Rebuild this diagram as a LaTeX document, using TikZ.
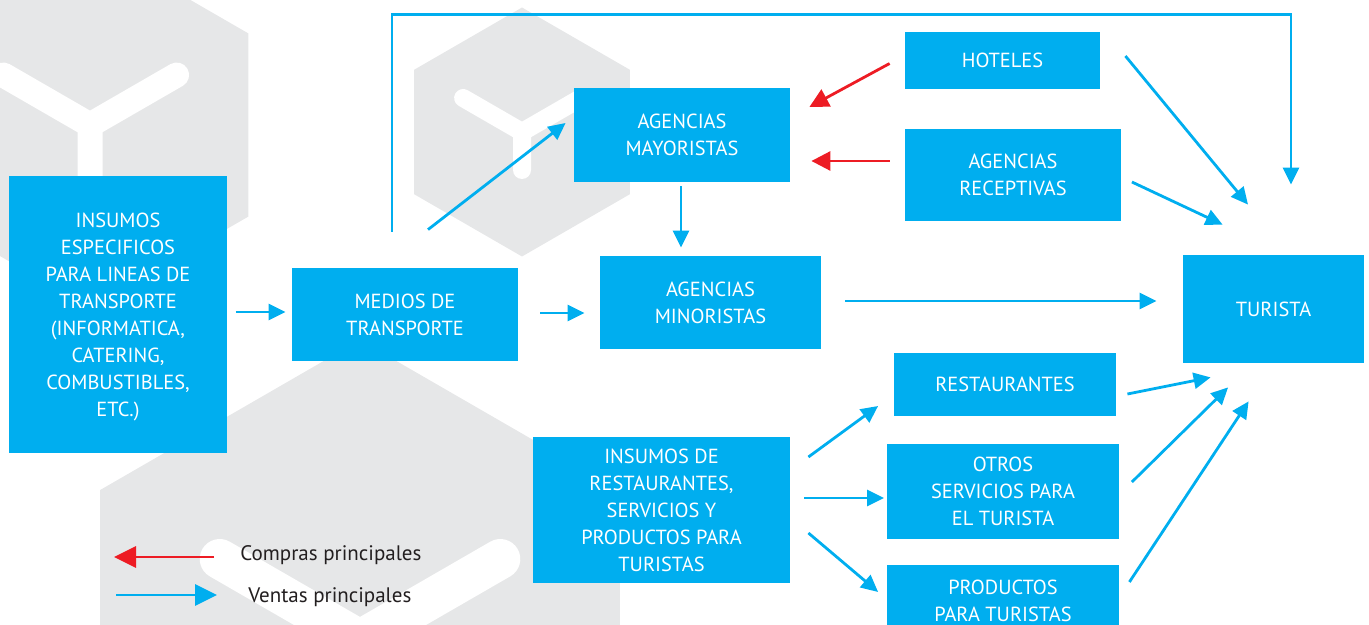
\documentclass[tikz,border=0pt]{standalone}
\usepackage{fontspec}
\setmainfont{PT Sans}
\usetikzlibrary{arrows.meta}
\definecolor{azul}{HTML}{00AEEF}
\definecolor{rojo}{HTML}{ED1C24}
\definecolor{gris}{HTML}{E6E7E8}
\definecolor{texto}{HTML}{231F20}

\begin{document}
\begin{tikzpicture}[x=0.5pt,y=-0.5pt,
    caja/.style={fill=azul,text=white,inner sep=0pt,align=center,font=\fontsize{10.2}{13.5}\selectfont},
    venta/.style={draw=azul,line width=1.4pt,-{Triangle[length=8.5pt,width=8pt]}},
    compra/.style={draw=rojo,line width=1.4pt,-{Triangle[length=9.5pt,width=9.5pt]}},
    leyenda/.style={anchor=base west,inner sep=0pt,text=texto,font=\fontsize{10.5}{12}\selectfont},
    hexa/.style={fill=gris},
    brazo/.style={draw=white,line cap=round,line join=round}]
  \useasboundingbox (0,0) rectangle (1369,625);
  \clip (0,0) rectangle (1369,625);
  % fondo
  \foreach \cx/\cy/\rad/\brz/\tal/\gro in {90/125/183/100/100/12.5, 522/132/124.5/68/38/9, 360/640/300/162/162/20}{
    \fill[hexa] (\cx,\cy) +(90:\rad) -- +(30:\rad) -- +(-30:\rad) -- +(-90:\rad) -- +(-150:\rad) -- +(150:\rad) -- cycle;
    \draw[brazo,line width=\gro pt] (\cx,\cy) +(-150:\brz) -- (\cx,\cy) -- +(-30:\brz) (\cx,\cy) -- +(90:\tal);
  }

  \node[caja,minimum width=109pt,minimum height=138.5pt,text depth=-2pt] (ins) at (118,314.5) {INSUMOS\\ESPECIFICOS\\PARA LINEAS DE\\TRANSPORTE\\(INFORMATICA,\\CATERING,\\COMBUSTIBLES,\\ETC.)};
  \node[caja,minimum width=113pt,minimum height=46.5pt] (med) at (405,314.5) {MEDIOS DE\\TRANSPORTE};
  \node[caja,minimum width=108pt,minimum height=47pt] (may) at (682,135) {AGENCIAS\\MAYORISTAS};
  \node[caja,minimum width=110.5pt,minimum height=46.5pt] (min) at (710.5,302.5) {AGENCIAS\\MINORISTAS};
  \node[caja,minimum width=97.5pt,minimum height=28.5pt] (hot) at (1002.5,60.5) {HOTELES};
  \node[caja,minimum width=108pt,minimum height=46pt] (rec) at (1013,175) {AGENCIAS\\RECEPTIVAS};
  \node[caja,minimum width=90.5pt,minimum height=54pt] (tur) at (1273.5,309) {TURISTA};
  \node[caja,minimum width=128.5pt,minimum height=73pt] (inr) at (661.5,510) {INSUMOS DE\\RESTAURANTES,\\SERVICIOS Y\\PRODUCTOS PARA\\TURISTAS};
  \node[caja,minimum width=111pt,minimum height=31.5pt] (res) at (1005,384.5) {RESTAURANTES};
  \node[caja,minimum width=116pt,minimum height=47.5pt] (otr) at (1003,491.5) {OTROS\\SERVICIOS PARA\\EL TURISTA};
  \node[caja,minimum width=116pt,minimum height=36pt] (pro) at (1003,601) {PRODUCTOS\\PARA TURISTAS};

  % ventas
  \draw[venta] ([shift={(8.5,-2.5)}]ins.east) -- ([shift={(-6,-2.5)}]med.west);
  \draw[venta] ([shift={(22,-1.5)}]med.east) -- ([shift={(-15,10.5)}]min.west);
  \draw[venta] ([shift={(23,-38)}]med.north) -- ([shift={(-8,-12)}]may.west);
  \draw[venta] ([shift={(-1,4)}]may.south) -- ([shift={(-29.5,-8)}]min.north);
  \draw[venta] ([shift={(24,-1.5)}]min.east) -- ([shift={(-26,-8)}]tur.west);
  \draw[venta] ([shift={(-13,-36)}]med.north) -- ++(0,-217) -| ([shift={(17.5,-70)}]tur.north);
  \draw[venta] ([shift={(25,-4.5)}]hot.east) -- ([shift={(-25.5,-50)}]tur.north);
  \draw[venta] ([shift={(10.5,7)}]rec.east) -- ([shift={(40,-30)}]tur.north west);
  \draw[venta] ([shift={(18,-53)}]inr.east) -- ([shift={(-15.5,21.5)}]res.west);
  \draw[venta] ([shift={(14,-12)}]inr.east) -- ([shift={(-2.5,6.5)}]otr.west);
  \draw[venta] ([shift={(18,23)}]inr.east) -- ([shift={(-8.5,-9)}]pro.west);
  \draw[venta] ([shift={(11,9.5)}]res.east) -- ([shift={(28,14)}]tur.south west);
  \draw[venta] ([shift={(12.5,-9.5)}]otr.east) -- ([shift={(45.5,24)}]tur.south west);
  \draw[venta] ([shift={(10,-19)}]pro.east) -- ([shift={(66,38)}]tur.south west);
  % compras
  \draw[compra] ([shift={(-15,3)}]hot.west) -- ([shift={(19,-28)}]may.east);
  \draw[compra] ([shift={(-15,-14)}]rec.west) -- ([shift={(21,26)}]may.east);

  % leyenda
  \node[leyenda] (lgc) at (240,560) {Compras principales};
  \node[leyenda] (lgv) at (248,602) {Ventas principales};
  \draw[compra,-{Triangle[length=11pt,width=10.5pt]}] ([shift={(-26,-3)}]lgc.base west) -- ([shift={(-126,-3)}]lgc.base west);
  \draw[venta,-{Triangle[length=11pt,width=10.5pt]}] ([shift={(-132,-7)}]lgv.base west) -- ([shift={(-31,-7)}]lgv.base west);
\end{tikzpicture}
\end{document}
